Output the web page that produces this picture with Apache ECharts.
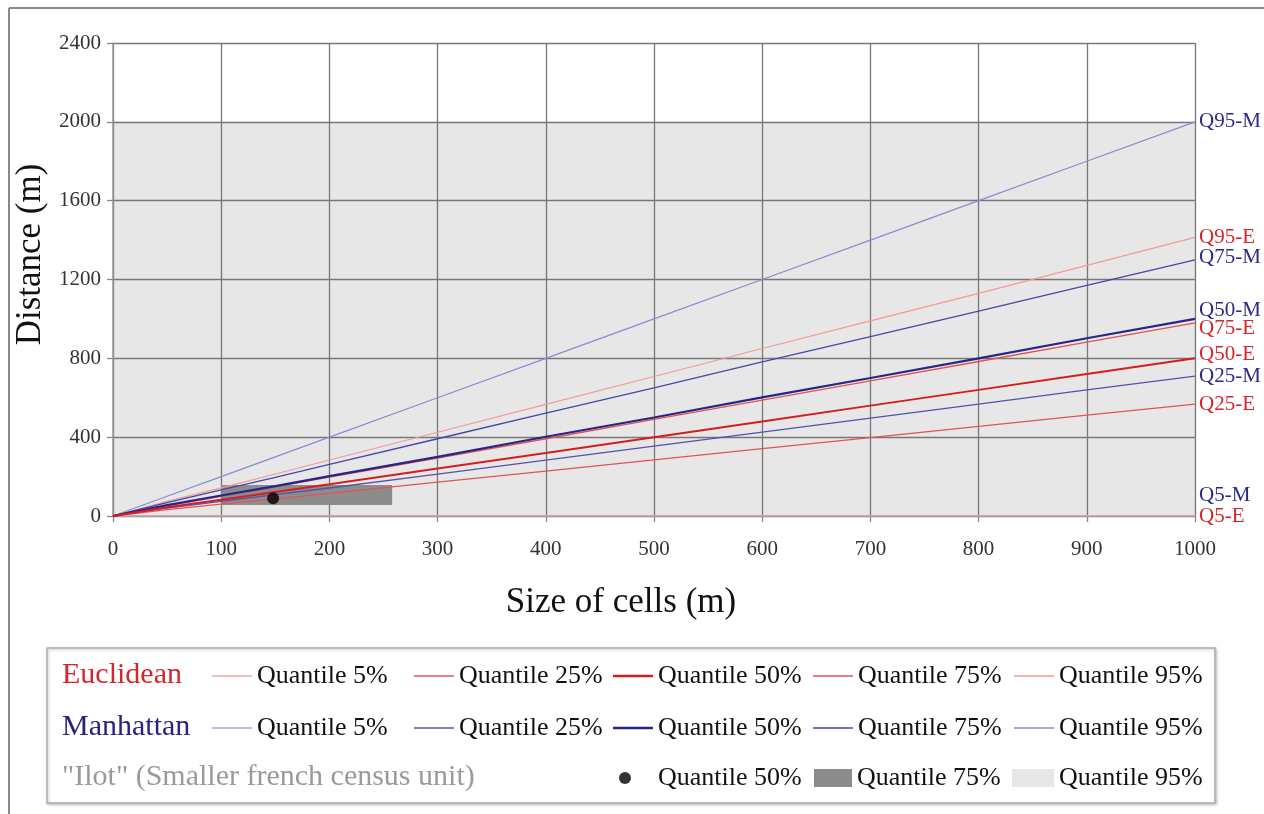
<!DOCTYPE html>
<html>
<head>
<meta charset="utf-8">
<script src="https://cdn.jsdelivr.net/npm/echarts@6/dist/echarts.min.js"></script>
<style>
html,body{margin:0;padding:0;background:#fff;}
#chart{width:1264px;height:814px;}
</style>
</head>
<body>
<div id="chart"></div>
<script>
// ---- data ----
const cellSizes = [0, 50, 100, 150, 200, 300, 400, 500, 600, 700, 800, 900, 1000];
const euclidQ5  = [0, 0, 0, 0, 0, 0, 0, 0, 0, 0, 0, 0, 0];
const euclidQ25 = [0, 32, 60, 87, 115, 172, 228, 285, 342, 398, 455, 512, 568];
const euclidQ50 = [0, 44, 82, 122, 161, 241, 320, 400, 480, 560, 640, 720, 800];
const euclidQ75 = [0, 52, 100, 148, 197, 294, 392, 490, 588, 686, 784, 882, 980];
const euclidQ95 = [0, 74, 143, 213, 284, 425, 566, 708, 850, 990, 1130, 1272, 1414];
const manhQ5  = [0, 0, 0, 0, 0, 0, 0, 0, 0, 0, 0, 0, 0];
const manhQ25 = [0, 40, 74, 108, 142, 213, 284, 355, 426, 497, 568, 640, 710];
const manhQ50 = [0, 55, 104, 152, 202, 300, 402, 500, 602, 700, 800, 902, 1000];
const manhQ75 = [0, 68, 132, 196, 262, 392, 522, 650, 782, 910, 1040, 1170, 1300];
const manhQ95 = [0, 100, 200, 300, 400, 600, 800, 1000, 1200, 1400, 1600, 1800, 2000];
// Ilot (smaller french census unit): [size, distance] and rectangles [x0, y0, x1, y1]
const ilotQ50 = [148, 90];
const ilotQ75 = [100, 56, 258, 157];
const ilotQ95 = [0, 0, 1000, 2000];
const xTicks = {min: 0, max: 1000, step: 100};
const yTicks = {min: 0, max: 2400, step: 400};
const quantileLabels = {
  'Q5-E': 'Quantile 5%', 'Q25-E': 'Quantile 25%', 'Q50-E': 'Quantile 50%', 'Q75-E': 'Quantile 75%', 'Q95-E': 'Quantile 95%',
  'Q5-M': 'Quantile 5%', 'Q25-M': 'Quantile 25%', 'Q50-M': 'Quantile 50%', 'Q75-M': 'Quantile 75%', 'Q95-M': 'Quantile 95%',
  'Ilot Q50': 'Quantile 50%', 'Ilot Q75': 'Quantile 75%', 'Ilot Q95': 'Quantile 95%'
};
const rowTitles = ['Euclidean', 'Manhattan', '"Ilot" (Smaller french census unit)'];

// ---- build ----
const SERIF = '"Liberation Serif", "DejaVu Serif", serif';
const RED_TXT = '#d4262c', BLUE_TXT = '#2a2a88';
function pairs(ys) { return cellSizes.map((x, i) => [x, ys[i]]); }

function lineSeries(name, ys, color, width, labelColor, labelDy, z) {
  return {
    name, type: 'line', data: pairs(ys), symbol: 'none', showSymbol: false, z: z,
    lineStyle: {color, width}, itemStyle: {color},
    emphasis: {disabled: true},
    endLabel: {show: true, formatter: '{a}', color: labelColor, fontFamily: SERIF, fontSize: 21,
               distance: 4, offset: [0, labelDy]}
  };
}
function rectRender(params, api) {
  const p0 = api.coord([api.value(0), api.value(1)]);
  const p1 = api.coord([api.value(2), api.value(3)]);
  return {type: 'rect', shape: {x: p0[0], y: p1[1], width: p1[0] - p0[0], height: p0[1] - p1[1]},
          style: {fill: api.visual('color')}};
}

const series = [
  {name: 'Ilot Q95', type: 'custom', renderItem: rectRender, data: [ilotQ95], z: -1,
   encode: {x: [0, 2], y: [1, 3]}, itemStyle: {color: '#e7e7e7'}, silent: true},
  {name: 'Ilot Q75', type: 'custom', renderItem: rectRender, data: [ilotQ75], z: 1,
   encode: {x: [0, 2], y: [1, 3]}, itemStyle: {color: '#8c8c8c'}, silent: true},
  lineSeries('Q5-M', manhQ5, '#a9a9dd', 1.2, BLUE_TXT, -21, 2),
  lineSeries('Q95-M', manhQ95, '#8a8ad0', 1.2, BLUE_TXT, 0, 2),
  lineSeries('Q95-E', euclidQ95, '#f09a9a', 1.2, RED_TXT, 0, 2),
  lineSeries('Q75-M', manhQ75, '#4646a6', 1.3, BLUE_TXT, -2, 2),
  lineSeries('Q75-E', euclidQ75, '#e45050', 1.3, RED_TXT, 6, 2),
  lineSeries('Q50-M', manhQ50, '#26268a', 2.2, BLUE_TXT, -8, 3),
  lineSeries('Q50-E', euclidQ50, '#d41e1e', 2, RED_TXT, -4, 3),
  lineSeries('Q25-M', manhQ25, '#5252ae', 1.3, BLUE_TXT, 0, 2),
  lineSeries('Q25-E', euclidQ25, '#e25454', 1.3, RED_TXT, 0, 2),
  lineSeries('Q5-E', euclidQ5, '#f2aaaa', 1.2, RED_TXT, 0, 2),
  {name: 'Ilot Q50', type: 'scatter', data: [ilotQ50], symbol: 'circle', symbolSize: 12, z: 5,
   itemStyle: {color: '#000'}, silent: true}
];

const rowCenter = [675, 727, 777];
const textLeft = [257, 459, 658, 858, 1059];
function leg(name, left, center, iw, ih, icon, textPad) {
  return {
    data: [name], left, top: center - 12, orient: 'horizontal', padding: 0, itemGap: 0,
    itemWidth: iw, itemHeight: ih, icon: icon, selectedMode: false,
    formatter: n => quantileLabels[n],
    textStyle: {fontFamily: SERIF, fontSize: 26, color: '#111', padding: [0, 0, 0, textPad || 0]}
  };
}
const legends = [];
['Q5', 'Q25', 'Q50', 'Q75', 'Q95'].forEach((q, i) => {
  const h = q === 'Q50' ? 2.4 : 1.6;
  legends.push(leg(q + '-E', textLeft[i] - 45, rowCenter[0], 40, h, 'rect'));
  legends.push(leg(q + '-M', textLeft[i] - 45, rowCenter[1], 40, h, 'rect'));
});
legends.push(leg('Ilot Q50', 619, rowCenter[2], 12, 12, 'circle', 22));
legends.push(leg('Ilot Q75', 814, rowCenter[2], 38, 18, 'rect'));
legends.push(leg('Ilot Q95', 1012, rowCenter[2], 42, 18, 'rect'));

const option = {
  backgroundColor: '#ffffff',
  animation: false,
  grid: {left: 113, right: 69, top: 43, bottom: 298, containLabel: false},
  xAxis: {
    type: 'value', min: xTicks.min, max: xTicks.max, interval: xTicks.step,
    name: 'Size of cells (m)', nameLocation: 'middle', nameGap: 69,
    nameTextStyle: {fontFamily: SERIF, fontSize: 35, color: '#111', padding: [0, 66, 0, 0]},
    axisLine: {show: true, lineStyle: {color: '#999', width: 1.5}},
    axisTick: {show: true, length: 6, lineStyle: {color: '#888', width: 1.3}},
    axisLabel: {fontFamily: SERIF, fontSize: 21, color: '#333', margin: 23, formatter: v => String(v)},
    splitLine: {show: true, lineStyle: {color: '#777', width: 1.3}}
  },
  yAxis: {
    type: 'value', min: yTicks.min, max: yTicks.max, interval: yTicks.step,
    name: 'Distance (m)', nameLocation: 'middle', nameGap: 53,
    nameTextStyle: {fontFamily: SERIF, fontSize: 35, color: '#111', padding: [0, 0, 0, 50]},
    axisLine: {show: true, lineStyle: {color: '#999', width: 1.5}},
    axisTick: {show: true, length: 6, lineStyle: {color: '#888', width: 1.3}},
    axisLabel: {fontFamily: SERIF, fontSize: 21, color: '#333', margin: 12, formatter: v => String(v)},
    splitLine: {show: true, lineStyle: {color: '#777', width: 1.3}}
  },
  legend: legends,
  graphic: [
    {type: 'line', shape: {x1: 9, y1: 8, x2: 1264, y2: 8}, style: {stroke: '#8a8a8a', lineWidth: 2}, silent: true},
    {type: 'line', shape: {x1: 9, y1: 8, x2: 9, y2: 814}, style: {stroke: '#8a8a8a', lineWidth: 2}, silent: true},
    {type: 'rect', shape: {x: 47, y: 648, width: 1168, height: 155},
     style: {fill: '#fff', stroke: '#b0b0b0', lineWidth: 1.5, shadowBlur: 3, shadowColor: 'rgba(0,0,0,0.25)', shadowOffsetX: 1, shadowOffsetY: 1},
     z: -10, silent: true},
    {type: 'text', x: 62, y: rowCenter[0], style: {text: rowTitles[0], font: '30px ' + SERIF, fill: '#d4262c', verticalAlign: 'middle'}, silent: true},
    {type: 'text', x: 62, y: rowCenter[1], style: {text: rowTitles[1], font: '30px ' + SERIF, fill: '#25257e', verticalAlign: 'middle'}, silent: true},
    {type: 'text', x: 62, y: rowCenter[2], style: {text: rowTitles[2], font: '30px ' + SERIF, fill: '#9a9a9a', verticalAlign: 'middle'}, silent: true}
  ],
  series
};

const chart = echarts.init(document.getElementById('chart'), null, {renderer: 'canvas'});
chart.setOption(option);
</script>
</body>
</html>
